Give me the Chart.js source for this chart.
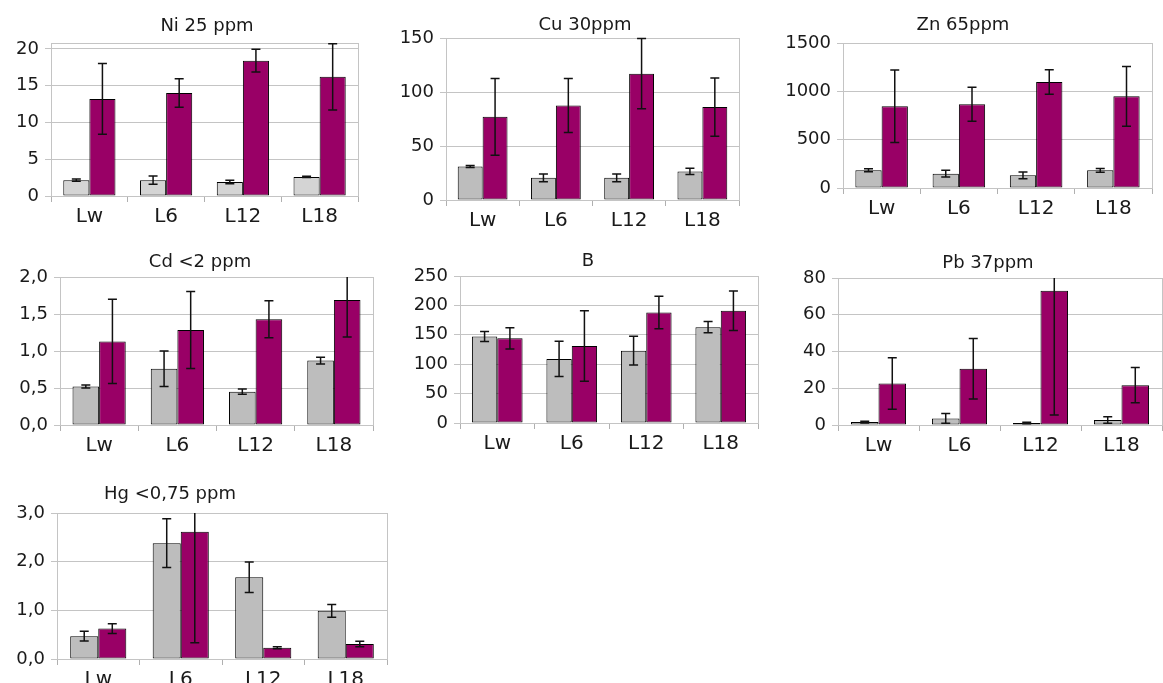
<!DOCTYPE html>
<html>
<head>
<meta charset="utf-8">
<script src="https://cdn.jsdelivr.net/npm/chart.js@4.4.1/dist/chart.umd.min.js"></script>
<style>
html, body { margin: 0; padding: 0; background: #fff; width: 1163px; height: 683px; overflow: hidden; }
canvas { position: absolute; }
</style>
</head>
<body>
<canvas id="ni"></canvas>
<canvas id="cu"></canvas>
<canvas id="zn"></canvas>
<canvas id="cd"></canvas>
<canvas id="b"></canvas>
<canvas id="pb"></canvas>
<canvas id="hg"></canvas>
<script>
const categories = ['Lw', 'L6', 'L12', 'L18'];

// Ni 25 ppm
const niGray = [2.15, 2.15, 1.9, 2.6];
const niGrayErr = [0.15, 0.56, 0.25, 0.08];
const niPurple = [13.2, 14.0, 18.4, 16.2];
const niPurpleErr = [4.8, 1.95, 1.55, 4.5];

// Cu 30ppm
const cuGray = [31, 20.5, 20.5, 26.5];
const cuGrayErr = [1, 3.5, 3.5, 3];
const cuPurple = [77, 87.5, 117, 86];
const cuPurpleErr = [35.5, 25, 32.5, 27];

// Zn 65ppm
const znGray = [183, 148, 131, 183];
const znGrayErr = [15, 35, 35, 20];
const znPurple = [845, 866, 1097, 948];
const znPurpleErr = [375, 176, 126, 310];

// Cd <2 ppm
const cdGray = [0.52, 0.76, 0.45, 0.87];
const cdGrayErr = [0.02, 0.24, 0.035, 0.045];
const cdPurple = [1.13, 1.285, 1.43, 1.69];
const cdPurpleErr = [0.57, 0.52, 0.25, 0.5];

// B
const bGray = [147, 109, 123, 163];
const bGrayErr = [8.5, 30, 24.5, 9.5];
const bPurple = [144, 131, 188, 191];
const bPurpleErr = [18, 60, 27.5, 33.5];

// Pb 37ppm
const pbGray = [1.6, 3.6, 1.1, 2.7];
const pbGrayErr = [0.5, 2.6, 0.4, 1.8];
const pbPurple = [22.6, 30.6, 73.1, 21.7];
const pbPurpleErr = [14, 16.5, 67.7, 9.6];

// Hg <0,75 ppm
const hgGray = [0.47, 2.38, 1.68, 0.99];
const hgGrayErr = [0.1, 0.5, 0.315, 0.13];
const hgPurple = [0.625, 2.615, 0.233, 0.309];
const hgPurpleErr = [0.1, 2.28, 0.02, 0.055];

const FONT = 'DejaVu Sans';
const TEXT = '#1a1a1a';
const GRID = '#c4c4c4';
const PURPLE = '#990066';

// error bars drawn through the y scale
const errorBars = {
    id: 'errorBars',
    afterDatasetsDraw(chart) {
        const ctx = chart.ctx, area = chart.chartArea, y = chart.scales.y;
        ctx.save();
        ctx.strokeStyle = '#111';
        ctx.lineWidth = 1.5;
        chart.data.datasets.forEach((ds, i) => {
            chart.getDatasetMeta(i).data.forEach((bar, j) => {
                const v = ds.data[j], e = ds.errors[j];
                let top = y.getPixelForValue(v + e);
                let bot = y.getPixelForValue(v - e);
                const capTop = top >= area.top - 0.5;
                const capBot = bot <= area.bottom + 0.5;
                top = Math.max(top, area.top);
                bot = Math.min(bot, area.bottom);
                ctx.beginPath();
                ctx.moveTo(bar.x, top);
                ctx.lineTo(bar.x, bot);
                if (capTop) { ctx.moveTo(bar.x - 4.5, top); ctx.lineTo(bar.x + 4.5, top); }
                if (capBot) { ctx.moveTo(bar.x - 4.5, bot); ctx.lineTo(bar.x + 4.5, bot); }
                ctx.stroke();
            });
        });
        ctx.restore();
    }
};

// gray frame round the plot area
const frame = {
    id: 'frame',
    beforeDatasetsDraw(chart) {
        const a = chart.chartArea, ctx = chart.ctx;
        ctx.save();
        ctx.strokeStyle = GRID;
        ctx.lineWidth = 1;
        ctx.strokeRect(Math.round(a.left) + 0.5, Math.round(a.top) + 0.5, Math.round(a.right - a.left), Math.round(a.bottom - a.top));
        ctx.restore();
    }
};

// title placed at its own spot
const panelTitle = {
    id: 'panelTitle',
    afterDraw(chart, args, opts) {
        const ctx = chart.ctx;
        ctx.save();
        ctx.font = '18px "' + FONT + '"';
        ctx.fillStyle = TEXT;
        ctx.textAlign = 'center';
        ctx.textBaseline = 'middle';
        ctx.fillText(opts.text, opts.x, opts.y);
        ctx.restore();
    }
};

const panels = [
    { id: 'ni', title: 'Ni 25 ppm', gray: niGray, grayErr: niGrayErr, purple: niPurple, purpleErr: niPurpleErr, max: 20.8, step: 5, dec: false, L: 51, R: 358, T: 43, B: 196, tx: 207, ty: 26, grayColor: '#d4d4d4' },
    { id: 'cu', title: 'Cu 30ppm', gray: cuGray, grayErr: cuGrayErr, purple: cuPurple, purpleErr: cuPurpleErr, max: 150, step: 50, dec: false, L: 446, R: 739, T: 38, B: 200, tx: 585, ty: 25, grayColor: '#bdbdbd' },
    { id: 'zn', title: 'Zn 65ppm', gray: znGray, grayErr: znGrayErr, purple: znPurple, purpleErr: znPurpleErr, max: 1500, step: 500, dec: false, L: 843, R: 1152, T: 43, B: 188, tx: 963, ty: 25, grayColor: '#bdbdbd' },
    { id: 'cd', title: 'Cd <2 ppm', gray: cdGray, grayErr: cdGrayErr, purple: cdPurple, purpleErr: cdPurpleErr, max: 2, step: 0.5, dec: true, L: 60, R: 373, T: 277, B: 425, tx: 200, ty: 262, grayColor: '#bdbdbd' },
    { id: 'b', title: 'B', gray: bGray, grayErr: bGrayErr, purple: bPurple, purpleErr: bPurpleErr, max: 250, step: 50, dec: false, L: 460, R: 758, T: 276, B: 423, tx: 588, ty: 261, grayColor: '#bdbdbd' },
    { id: 'pb', title: 'Pb 37ppm', gray: pbGray, grayErr: pbGrayErr, purple: pbPurple, purpleErr: pbPurpleErr, max: 80, step: 20, dec: false, L: 838, R: 1162, T: 278, B: 425, tx: 988, ty: 263, grayColor: '#bdbdbd' },
    { id: 'hg', title: 'Hg <0,75 ppm', gray: hgGray, grayErr: hgGrayErr, purple: hgPurple, purpleErr: hgPurpleErr, max: 3, step: 1, dec: true, L: 57, R: 387, T: 513, B: 659, tx: 170, ty: 494, grayColor: '#bdbdbd' }
];

const YW = 70, TOPPAD = 40, XH = 34;

panels.forEach(p => {
    const cv = document.getElementById(p.id);
    const left = p.L - YW, top = p.T - TOPPAD;
    cv.width = p.R - p.L + YW + 1;
    cv.height = p.B - p.T + TOPPAD + XH;
    cv.style.left = left + 'px';
    cv.style.top = top + 'px';

    new Chart(cv, {
        type: 'bar',
        data: {
            labels: categories,
            datasets: [
                { data: p.gray, errors: p.grayErr, backgroundColor: p.grayColor },
                { data: p.purple, errors: p.purpleErr, backgroundColor: PURPLE }
            ]
        },
        options: {
            responsive: false,
            animation: false,
            devicePixelRatio: 1,
            layout: { padding: { top: TOPPAD, right: 1, left: 0, bottom: 0 } },
            datasets: {
                bar: { categoryPercentage: 0.68, barPercentage: 1, borderWidth: 1, borderColor: '#000', borderSkipped: false }
            },
            plugins: {
                legend: { display: false },
                tooltip: { enabled: false },
                panelTitle: { text: p.title, x: p.tx - left, y: p.ty - top }
            },
            scales: {
                x: {
                    afterFit: s => { s.height = XH; },
                    ticks: { padding: 3, color: TEXT, font: { family: FONT, size: 20 } },
                    grid: { drawOnChartArea: false, tickLength: 6, color: '#b0b0b0', offset: true },
                    border: { color: '#b0b0b0' }
                },
                y: {
                    min: 0,
                    max: p.max,
                    afterFit: s => { s.width = YW; },
                    ticks: {
                        stepSize: p.step,
                        includeBounds: false,
                        padding: 6,
                        color: TEXT,
                        font: { family: FONT, size: 18 },
                        callback: v => p.dec ? v.toFixed(1).replace('.', ',') : v
                    },
                    grid: { color: GRID, tickLength: 6 },
                    border: { color: '#b0b0b0' }
                }
            }
        },
        plugins: [frame, errorBars, panelTitle]
    });
});
</script>
</body>
</html>
